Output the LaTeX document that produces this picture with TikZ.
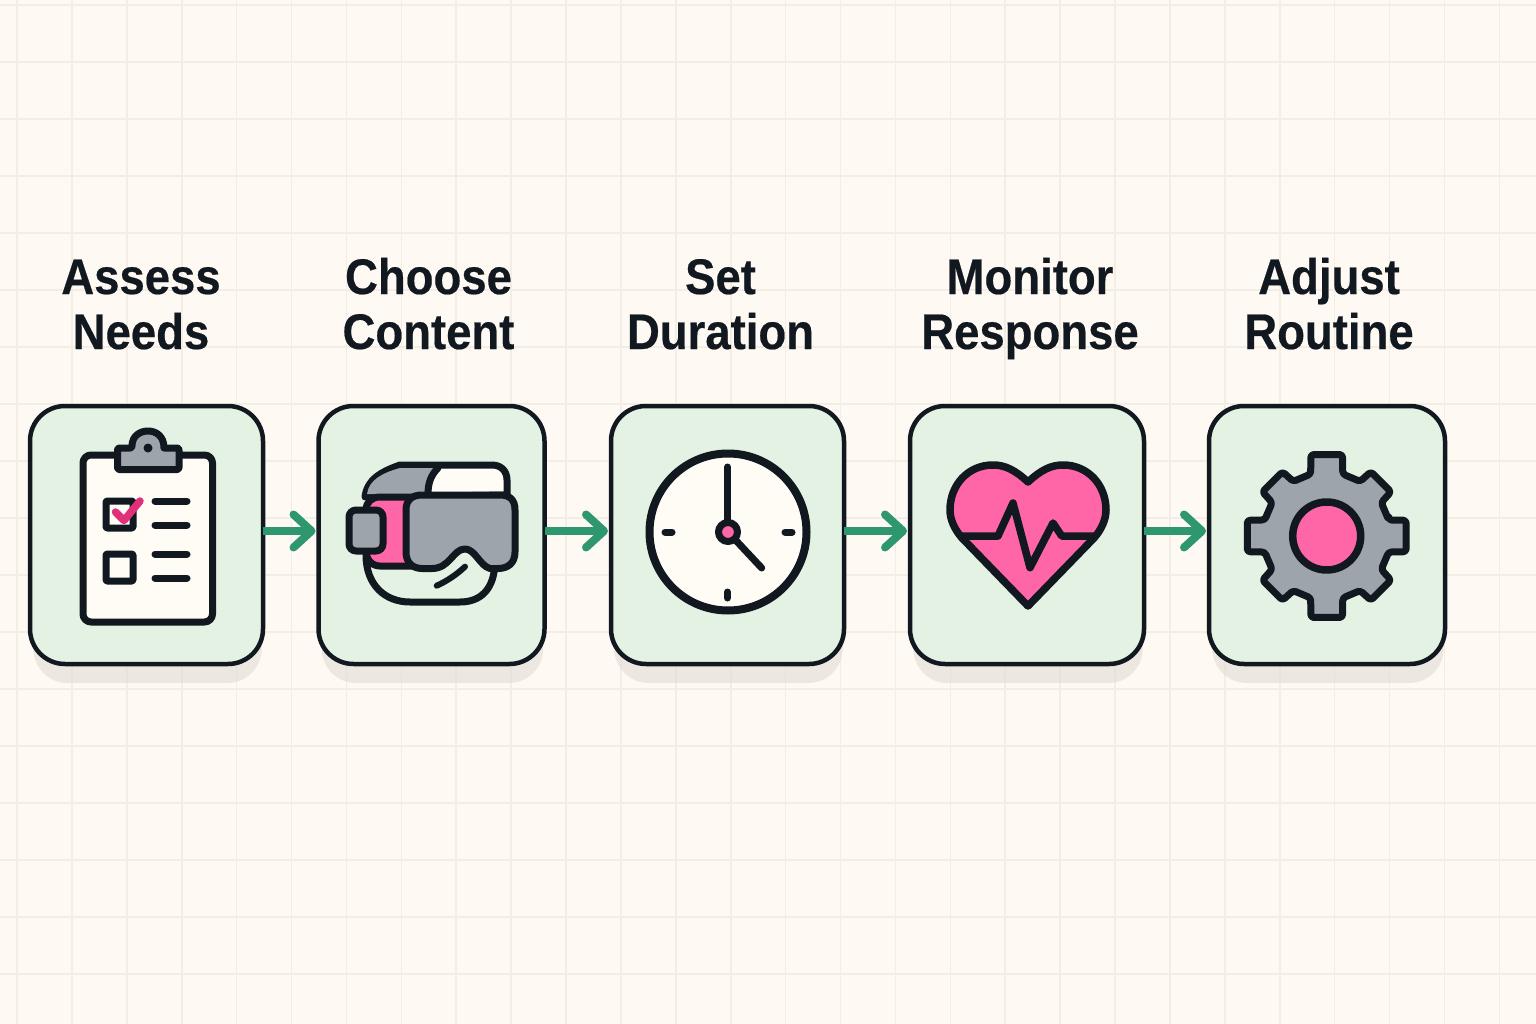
\documentclass[tikz,border=0pt]{standalone}
\usepackage{fontspec}
\setmainfont{Liberation Sans}
\newfontfamily\titlefont[UprightFont={* Bold},FakeStretch=0.91,FakeBold=0.4]{Liberation Sans}
\usepackage{tikz}
\usetikzlibrary{positioning,shadows,arrows.meta}

\definecolor{paper}{HTML}{FEFAF3}
\definecolor{gridgray}{HTML}{F2EEE6}
\definecolor{mint}{HTML}{E3F2E3}
\definecolor{ink}{HTML}{111820}
\definecolor{leaf}{HTML}{2F9770}
\definecolor{hotpink}{HTML}{FF66A8}
\definecolor{deeppink}{HTML}{E0307A}
\definecolor{steel}{HTML}{9EA4AB}
\definecolor{cream}{HTML}{FFFCF6}

\begin{document}
\begin{tikzpicture}[x=1pt,y=-1pt,
	iconbox/.style={rectangle, rounded corners=35pt, draw=ink, fill=mint, line width=4.5pt, minimum height=258pt, minimum width=#1, inner sep=0pt, outer sep=0pt, drop shadow={shadow xshift=1pt, shadow yshift=-22pt, shadow scale=0.98, fill=black!12!paper, opacity=0.6}},
	steptitle/.style={font=\titlefont\fontsize{50}{55}\selectfont, text=ink, align=center, inner sep=0pt, outer sep=0pt, text depth=0pt},
	flow/.style={draw=leaf, line width=8pt, shorten >=3pt, -{Straight Barb[length=18pt,width=33pt,round]}},
	gridline/.style={draw=gridgray, line width=1.6pt},
	icon/.style={draw=ink, line width=7pt, line join=round, line cap=round}]

\useasboundingbox (0,0) rectangle (1536,1024);
\fill[paper] (0,0) rectangle (1536,1024);

%--background grid
\foreach \k in {0,...,27} \draw[gridline] ({17+54.9*\k},0) -- ({17+54.9*\k},1024);
\foreach \k in {0,...,17} \draw[gridline] (0,{5+57*\k}) -- (1536,{5+57*\k});

%--boxes of the five steps
\node [iconbox=233pt] (assess) at (146.5,535) {};
\node [iconbox=226pt, right=55.5pt of assess] (choose) {};
\node [iconbox=233pt, right=66.5pt of choose] (duration) {};
\node [iconbox=234pt, right=66pt of duration] (monitor) {};
\node [iconbox=236pt, right=65pt of monitor] (adjust) {};

%--titles
\node [steptitle, above=57pt of assess, xshift=-5.5pt] (assesstitle) {Assess\\Needs};
\node [steptitle, above=57pt of choose, xshift=-3pt] (choosetitle) {Choose\\Content};
\node [steptitle, above=57pt of duration, xshift=-7pt] (durationtitle) {Set\\Duration};
\node [steptitle, above=57pt of monitor, xshift=3pt] (monitortitle) {Monitor\\Response};
\node [steptitle, above=57pt of adjust, xshift=2pt] (adjusttitle) {Adjust\\Routine};

%--arrows between the boxes
\draw[flow] ([yshift=4pt]assess.east) -- ([yshift=4pt]choose.west);
\draw[flow] ([yshift=4pt]choose.east) -- ([yshift=4pt]duration.west);
\draw[flow] ([yshift=4pt]duration.east) -- ([yshift=4pt]monitor.west);
\draw[flow] ([yshift=4pt]monitor.east) -- ([yshift=4pt]adjust.west);

%--clipboard
\draw[icon, fill=cream, rounded corners=8pt] (83,455) rectangle (212.5,622);
\draw[icon, fill=steel] (117.5,469.5) [rounded corners=2pt] -- (117.5,448) -- (132,448) [sharp corners] .. controls (132,436) and (140,431) .. (148,431) .. controls (156,431) and (164,436) .. (164,448) [rounded corners=2pt] -- (179,448) -- (179,469.5) -- cycle;
\fill[ink] (148,448) circle (4.5);
\draw[icon, fill=cream, rounded corners=1pt] (106,501) rectangle (133,528);
\draw[draw=deeppink, line width=7.5pt, line cap=round, line join=round] (115.5,512) -- (124,520.5) -- (140,501);
\draw[icon, fill=cream, rounded corners=1pt] (106,554) rectangle (133,581);
\foreach \y in {501,525,554,578} \draw[icon] (155,\y) -- (187,\y);

%--headset
\draw[icon, fill=mint] (366,555) .. controls (366,585) and (385,602) .. (410,602) -- (460,602) .. controls (480,602) and (495,590) .. (495,560);
\draw[icon, fill=cream] (365,497) .. controls (367,480) and (380,472) .. (400,465) -- (492,465) .. controls (502,465) and (507,472) .. (507,480) -- (507,495) -- cycle;
\fill[steel] (367,494) .. controls (369,480) and (382,473) .. (400,468) -- (438,468) .. controls (431,475) and (428,483) .. (428,494) -- cycle;
\draw[icon] (438,468) .. controls (431,475) and (428,483) .. (428,494);
\draw[icon, fill=hotpink] (413,497) -- (380,497) .. controls (372,497) and (366,502) .. (366,510) -- (366,550) .. controls (366,560) and (372,566) .. (380,566) -- (413,566) -- cycle;
\draw[icon, fill=steel, rounded corners=7pt] (349,510) rectangle (383,551);
\draw[icon, fill=steel] (422,495) -- (500,495) .. controls (510,495) and (515,500) .. (515,510) -- (515,552) .. controls (515,563) and (508,568.5) .. (498,568.5) -- (490,568.5) .. controls (480,566) and (475,549) .. (465,549) .. controls (453,549) and (450,568.5) .. (432,568.5) -- (422,568.5) .. controls (412,568.5) and (406,562) .. (406,552) -- (406,510) .. controls (406,500) and (412,495) .. (422,495) -- cycle;
\draw[icon, line width=6pt] (436.7,585.7) .. controls (447,581) and (456,575) .. (465,566.7);

%--clock
\draw[icon, line width=8pt, fill=cream] (728,532) circle (78.5);
\draw[icon] (727.5,467) -- (727.5,532);
\draw[icon] (728,532) -- (761.7,568);
\draw[icon] (665,532) -- (672,532);
\draw[icon] (785,532) -- (792,532);
\draw[icon] (727.5,592) -- (727.5,598);
\draw[icon, line width=7pt, fill=hotpink] (728,532) circle (9.5);

%--heart
\draw[icon, line width=7.5pt, fill=hotpink] (1028,482) .. controls (1015,470) and (1005,465) .. (993,465) .. controls (968,465) and (950,485) .. (950,510) .. controls (950,520) and (955,530) .. (962,538) -- (1028,606) -- (1094,538) .. controls (1101,530) and (1106,520) .. (1106,510) .. controls (1106,485) and (1088,465) .. (1063,465) .. controls (1051,465) and (1041,470) .. (1028,482) -- cycle;
\draw[icon, line width=7.5pt] (962,536) -- (998,536) -- (1013,503) -- (1030,567.7) -- (1053,523) -- (1061.7,536) -- (1095,536);

%--gear
\draw[icon, fill=steel, rounded corners=3pt, shift={(1326.7,536)}] (-14.5:64)
	\foreach \a/\r/\w/\v in {0/81/11.2/14.5, 45/78/10.5/13.5, 90/83/11/14.5, 135/78/10.5/13.5, 180/81/11.2/14.5, 225/78/10.5/13.5, 270/83/11/14.5, 315/78/10.5/13.5}
	{ -- ({\a-\v}:64) -- ({\a-\w}:\r) -- ({\a+\w}:\r) -- ({\a+\v}:64) } -- cycle;
\draw[icon, line width=7.5pt, fill=hotpink] (1326.7,536) circle (34);

\end{tikzpicture}
\end{document}
